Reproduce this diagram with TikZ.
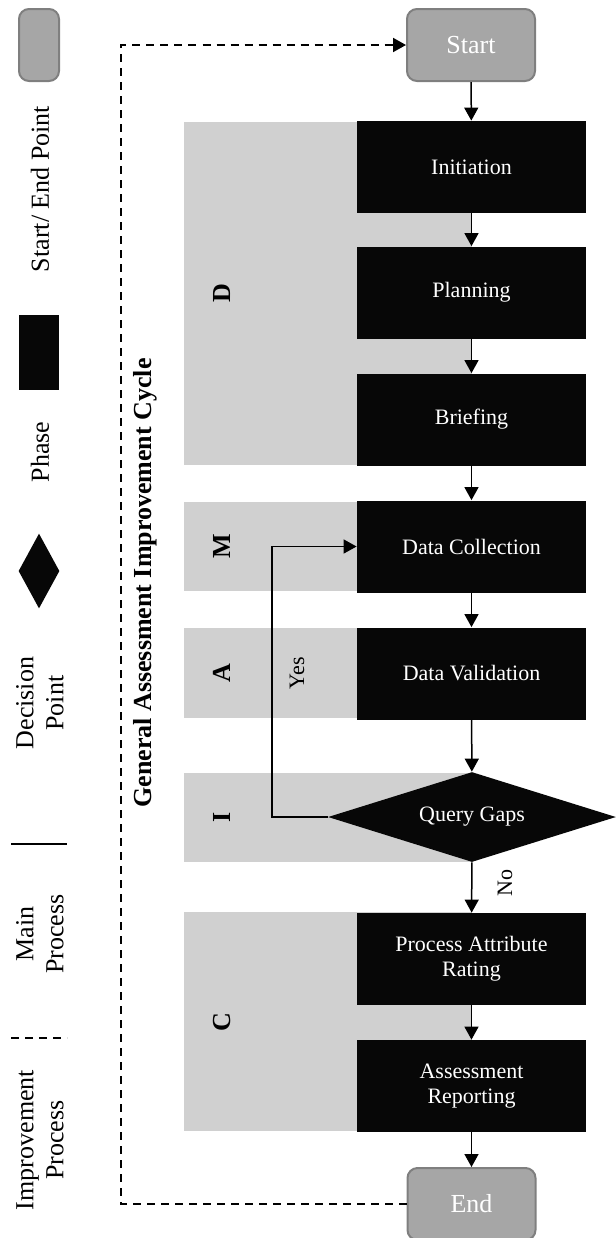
\documentclass[tikz,border=0pt]{standalone}
\usepackage{fontspec}
\setmainfont{Liberation Serif}
\usetikzlibrary{shapes.geometric}
\usetikzlibrary{arrows.meta}
\definecolor{bandgray}{HTML}{D0D0D0}
\definecolor{termgray}{HTML}{A6A6A6}
\definecolor{termedge}{HTML}{7F7F7F}
\definecolor{phaseblack}{HTML}{070707}
\tikzset{
termbox/.style={draw=termedge,line width=1pt,fill=termgray,rounded corners=5pt,text=white,minimum width=64pt,minimum height=36pt,inner sep=0pt,font=\fontsize{13}{15}\selectfont},
phasebox/.style={fill=phaseblack,text=white,minimum width=114.5pt,minimum height=46pt,inner sep=0pt,align=center,font=\fontsize{11}{12.5}\selectfont},
decisionbox/.style={diamond,aspect=3.2,fill=phaseblack,text=white,minimum width=144pt,minimum height=45pt,inner sep=0pt,font=\fontsize{11}{12.5}\selectfont},
bandrect/.style={fill=bandgray,draw=none},
bandletter/.style={rotate=90,font=\fontsize{13}{15}\selectfont\bfseries},
legendtext/.style={rotate=90,align=center,font=\fontsize{13}{15}\selectfont},
answertext/.style={rotate=90,font=\fontsize{11}{12.5}\selectfont},
flow/.style={-{Triangle[length=6.5pt,width=7pt]},line width=0.75pt},
improve/.style={line width=1pt,dash pattern=on 4pt off 3pt}
}
\begin{document}
\begin{tikzpicture}[x=0.5pt,y=-0.5pt]
\useasboundingbox (0,0) rectangle (616,1238);
\fill[bandrect] (184,122) rectangle (472,465);
\fill[bandrect] (184,502) rectangle (472,591);
\fill[bandrect] (184,628) rectangle (472,718);
\fill[bandrect] (184,773) rectangle (472,862);
\fill[bandrect] (184,912) rectangle (472,1131);
\node[bandletter] (bandD) at (222,293) {D};
\node[bandletter] (bandM) at (222,546) {M};
\node[bandletter] (bandA) at (222,673) {A};
\node[bandletter] (bandI) at (222,817) {I};
\node[bandletter] (bandC) at (222,1022) {C};
\node[legendtext,font=\fontsize{13}{15}\selectfont\bfseries] (cycle) at (145,583) {General Assessment Improvement Cycle};
\node[termbox] (start) at (471,45) {Start};
\node[phasebox] (init) at (471.5,167) {Initiation};
\node[phasebox] (plan) at (471.5,292.5) {Planning};
\node[phasebox] (brief) at (471.5,419.5) {Briefing};
\node[phasebox] (collect) at (471.5,546.5) {Data Collection};
\node[phasebox] (valid) at (471.5,673.5) {Data Validation};
\node[decisionbox] (gaps) at (472,817) {Query Gaps};
\node[phasebox] (rating) at (471.5,959) {Process Attribute\\Rating};
\node[phasebox] (report) at (471.5,1086) {Assessment\\Reporting};
\node[termbox] (end) at (471.5,1204) {End};
\draw[flow] (start) -- (init);
\draw[flow] (init) -- (plan);
\draw[flow] (plan) -- (brief);
\draw[flow] (brief) -- (collect);
\draw[flow] (collect) -- (valid);
\draw[flow] (valid) -- (gaps);
\draw[flow] (gaps) -- (rating);
\draw[flow] (rating) -- (report);
\draw[flow] (report) -- (end);
\coordinate (yesbend) at (272,817);
\draw[flow] (gaps.west) -- (yesbend) |- (collect.west);
\node[answertext] (yeslabel) at (297,673) {Yes};
\node[answertext] (nolabel) at (505,883) {No};
\coordinate (looptop) at (121,45);
\draw[improve,-{Triangle[length=6.5pt,width=7pt]}] (end.west) -| (looptop) -- (start.west);
\node[termbox,minimum width=20pt,minimum height=36pt] (legstart) at (39,45) {};
\node[legendtext] (legstarttext) at (40,189) {Start/ End Point};
\node[fill=phaseblack,minimum width=20pt,minimum height=37.5pt,inner sep=0pt] (legphase) at (39,352) {};
\node[legendtext] (legphasetext) at (40,452) {Phase};
\node[diamond,fill=phaseblack,minimum width=20.5pt,minimum height=37.5pt,inner sep=0pt] (legdecision) at (39,571) {};
\node[legendtext] (legdecisiontext) at (40,703) {Decision\\Point};
\coordinate (mainl) at (11,844);
\coordinate (mainr) at (67,844);
\draw[line width=0.75pt] (mainl) -- (mainr);
\node[legendtext] (legmaintext) at (40,934) {Main\\Process};
\coordinate (impl) at (11,1038);
\coordinate (impr) at (67,1038);
\draw[improve] (impl) -- (impr);
\node[legendtext] (legimptext) at (40,1140) {Improvement\\Process};
\end{tikzpicture}
\end{document}
